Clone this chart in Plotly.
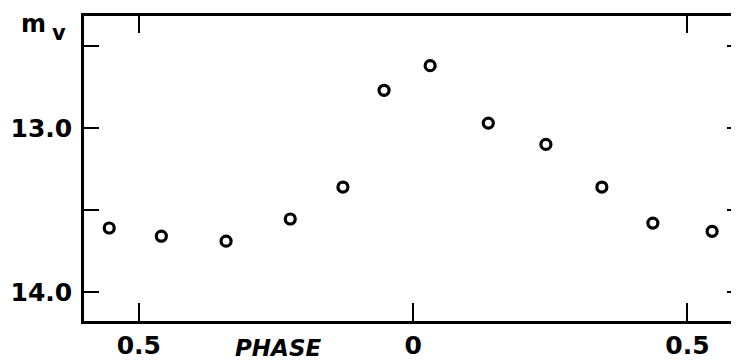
import plotly.graph_objects as go

phase = [-0.554, -0.459, -0.341, -0.224, -0.128, -0.053, 0.031, 0.137, 0.242, 0.344, 0.437, 0.545]
mag = [13.61, 13.66, 13.69, 13.555, 13.36, 12.77, 12.62, 12.97, 13.10, 13.36, 13.58, 13.63]

x_tickvals = [-0.5, 0.0, 0.5]
x_ticktext = ["0.5", "0", "0.5"]
top_tickvals = [-0.5, 0.5]
y_tickvals = [12.5, 13.0, 13.5, 14.0]
y_ticktext = ["", "13.0", "", "14.0"]

xr = [-0.6, 0.594]
yr = [14.177, 12.317]

font = dict(family="DejaVu Sans", size=25, color="black", weight="bold")

fig = go.Figure()
fig.add_trace(go.Scatter(
    x=phase, y=mag, mode="markers",
    marker=dict(symbol="circle-open", size=10, color="black",
                line=dict(width=3.2, color="black")),
    showlegend=False, hoverinfo="skip"))
fig.add_trace(go.Scatter(x=[None], y=[None], xaxis="x2", yaxis="y2", showlegend=False))

fig.update_layout(
    width=731, height=356,
    margin=dict(l=76, r=0, t=8, b=43, pad=0, autoexpand=False),
    paper_bgcolor="white", plot_bgcolor="white",
    xaxis=dict(range=xr, tickvals=x_tickvals, ticktext=x_ticktext,
               ticks="inside", ticklen=18, tickwidth=2, tickcolor="black",
               showline=True, linewidth=2.5, linecolor="black",
               showgrid=False, zeroline=False, tickfont=font,
               ticklabelstandoff=0, automargin=False),
    yaxis=dict(range=yr, tickvals=y_tickvals, ticktext=y_ticktext,
               ticks="inside", ticklen=15, tickwidth=2, tickcolor="black",
               showline=True, linewidth=2.5, linecolor="black",
               showgrid=False, zeroline=False, tickfont=font,
               ticklabelstandoff=4, automargin=False),
    xaxis2=dict(range=xr, overlaying="x", side="top", tickvals=top_tickvals,
                ticks="inside", ticklen=17, tickwidth=2, tickcolor="black",
                showticklabels=False, showline=True, linewidth=2.5, linecolor="black",
                showgrid=False, zeroline=False, automargin=False),
    yaxis2=dict(range=yr, overlaying="y", side="right", tickvals=y_tickvals,
                ticks="inside", ticklen=12, tickwidth=2, tickcolor="black",
                showticklabels=False, showline=False,
                showgrid=False, zeroline=False, automargin=False),
)

fig.add_annotation(xref="paper", yref="paper", x=-0.055, y=0.975, text="m",
                   showarrow=False, xanchor="right", yanchor="middle",
                   font=dict(family="DejaVu Sans", size=24, color="black", weight="bold"))
fig.add_annotation(xref="paper", yref="paper", x=-0.024, y=0.945, text="v",
                   showarrow=False, xanchor="right", yanchor="middle",
                   font=dict(family="DejaVu Sans", size=21, color="black", weight="bold"))
fig.add_annotation(xref="paper", yref="paper", x=0.296, y=-0.137, text="PHASE",
                   showarrow=False, xanchor="center", yanchor="bottom",
                   font=dict(family="DejaVu Sans", size=23, color="black",
                             weight="bold", style="italic"))

fig.write_html("out.html")
